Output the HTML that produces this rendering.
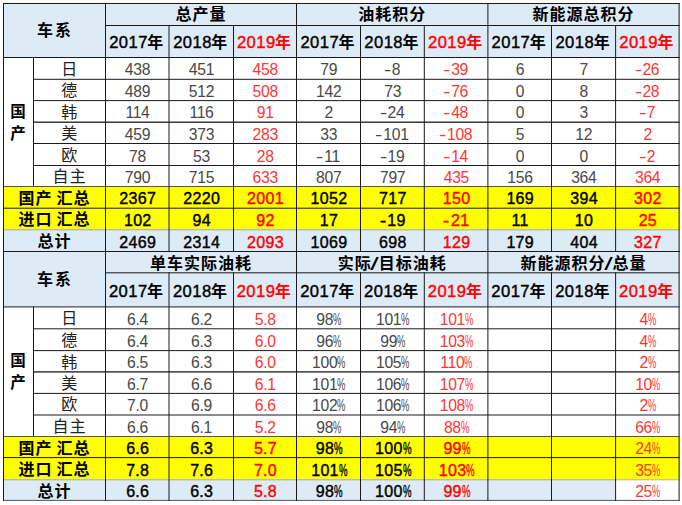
<!DOCTYPE html>
<html lang="zh"><head><meta charset="utf-8"><title>table</title><style>
html,body{margin:0;padding:0;background:#fff}
body{width:682px;height:505px;position:relative;overflow:hidden;font-family:"Liberation Sans","Noto Sans CJK SC",sans-serif;color:#000}
#bg{position:absolute;left:0;top:0}
.c{position:absolute;display:flex;align-items:center;justify-content:center;white-space:nowrap;box-sizing:border-box;text-align:center}
.g{display:inline-block;line-height:1}
.sp{display:inline-block;width:.3em}
.hb{font-weight:bold;font-size:16px}
.cx{padding-top:1px}
.cx .g{margin:0 1px}
.gh{padding-top:1px}
.gh .g{margin:0 .5px}
.yr{font-size:16px;padding-top:3px;padding-right:1px}
.yr .yd{font-size:16.6px;letter-spacing:.45px;font-weight:normal;-webkit-text-stroke:.4px currentColor}
.nian .g{margin-left:-.5px}
.d{font-size:15.7px;letter-spacing:-.3px;color:#484848;padding-top:5px;padding-left:1.5px}
.d.red{color:#FF3535}
.d.nm{font-size:16px;color:#222;padding-top:3.6px;padding-left:0}
.nm .g{margin:0 .7px}
.sb{font-weight:normal;-webkit-text-stroke:.4px currentColor;font-size:16px;padding-top:5px;padding-left:2px;letter-spacing:.3px}
.sl{padding-top:4px}
.sl .g{margin:0 .5px}
.sl .sp{width:4.1px}
.gc{line-height:22px;padding-top:2px;font-size:15.5px}
.gh.t2{padding-top:4px}
.cx.t2{padding-top:2.5px}
.yr.t2{padding-top:5.5px;padding-right:1.5px}
.slash{display:inline-block;font-weight:normal;font-size:18px;transform:scaleX(1.7);margin:0 1px;position:relative;top:.5px}
.sb .mn{transform:scaleX(1.15);margin-right:2px;margin-left:-.5px}
.red{color:#FF0000}
.mn{display:inline-block;transform:scaleX(1.4);transform-origin:0 50%;margin-right:3px;margin-left:-1.4px}
.pc{display:inline-block;width:8px;height:1em;position:relative;vertical-align:baseline;letter-spacing:0}
.pc i{font-style:normal;position:absolute;left:0;bottom:0;transform:scaleX(.6);transform-origin:0 50%;line-height:1}
</style></head><body>
<svg id="bg" width="682" height="505" viewBox="0 0 682 505"><rect x="3" y="3" width="676.6" height="54" fill="#DDEBF7"/><rect x="3" y="186" width="676.6" height="43.3" fill="#FFFF00"/><rect x="3" y="229.3" width="676.6" height="21.7" fill="#DDEBF7"/><rect x="3" y="251" width="676.6" height="55.4" fill="#DDEBF7"/><rect x="3" y="436" width="676.6" height="43.3" fill="#FFFF00"/><rect x="3" y="479.3" width="612.1" height="20.6" fill="#DDEBF7"/><rect x="3" y="3" width="676.6" height="1" fill="#1a1a1a"/><rect x="105" y="25" width="574.6" height="1" fill="#1a1a1a"/><rect x="3" y="57" width="676.6" height="1" fill="#1a1a1a"/><rect x="33" y="78.8" width="646.6" height="1" fill="#1a1a1a"/><rect x="33" y="100.1" width="646.6" height="1" fill="#1a1a1a"/><rect x="33" y="121.55" width="646.6" height="1.3" fill="#1a1a1a"/><rect x="33" y="143" width="646.6" height="1" fill="#1a1a1a"/><rect x="33" y="165" width="646.6" height="1" fill="#1a1a1a"/><rect x="3" y="186" width="676.6" height="1" fill="#555"/><rect x="3" y="207.7" width="676.6" height="1" fill="#1a1a1a"/><rect x="3" y="229.3" width="676.6" height="1" fill="rgba(0,0,0,.3)"/><rect x="3" y="251" width="676.6" height="1" fill="#1a1a1a"/><rect x="3" y="3" width="1" height="249" fill="#1a1a1a"/><rect x="33" y="57" width="1" height="129" fill="#1a1a1a"/><rect x="105" y="3" width="1" height="249" fill="#1a1a1a"/><rect x="168.5" y="25" width="1" height="227" fill="#1a1a1a"/><rect x="233" y="25" width="1" height="227" fill="#1a1a1a"/><rect x="296" y="3" width="1" height="249" fill="#1a1a1a"/><rect x="360" y="25" width="1" height="227" fill="#1a1a1a"/><rect x="423.8" y="25" width="1" height="227" fill="#1a1a1a"/><rect x="487.4" y="3" width="1" height="249" fill="#1a1a1a"/><rect x="551" y="25" width="1" height="227" fill="#1a1a1a"/><rect x="615.1" y="25" width="1" height="227" fill="#1a1a1a"/><rect x="678.6" y="3" width="1" height="249" fill="#1a1a1a"/><rect x="3" y="251" width="676.6" height="1" fill="#1a1a1a"/><rect x="105" y="272.3" width="574.6" height="1" fill="#1a1a1a"/><rect x="3" y="306.4" width="676.6" height="1" fill="#1a1a1a"/><rect x="33" y="328.3" width="646.6" height="1" fill="#1a1a1a"/><rect x="33" y="350.1" width="646.6" height="1" fill="#1a1a1a"/><rect x="33" y="371.25" width="646.6" height="1.3" fill="#1a1a1a"/><rect x="33" y="392.9" width="646.6" height="1" fill="#1a1a1a"/><rect x="33" y="414.5" width="646.6" height="1" fill="#1a1a1a"/><rect x="3" y="436" width="676.6" height="1" fill="#555"/><rect x="3" y="457.1" width="676.6" height="1" fill="#1a1a1a"/><rect x="3" y="479.3" width="676.6" height="1" fill="rgba(0,0,0,.3)"/><rect x="3" y="499.9" width="676.6" height="1" fill="#555"/><rect x="3" y="251" width="1" height="249.9" fill="#1a1a1a"/><rect x="33" y="306.4" width="1" height="129.6" fill="#1a1a1a"/><rect x="105" y="251" width="1" height="249.9" fill="#1a1a1a"/><rect x="168.5" y="272.3" width="1" height="228.6" fill="#1a1a1a"/><rect x="233" y="272.3" width="1" height="228.6" fill="#1a1a1a"/><rect x="296" y="251" width="1" height="249.9" fill="#1a1a1a"/><rect x="360" y="272.3" width="1" height="228.6" fill="#1a1a1a"/><rect x="423.8" y="272.3" width="1" height="228.6" fill="#1a1a1a"/><rect x="487.4" y="251" width="1" height="249.9" fill="#1a1a1a"/><rect x="551" y="272.3" width="1" height="228.6" fill="#1a1a1a"/><rect x="615.1" y="272.3" width="1" height="228.6" fill="#1a1a1a"/><rect x="678.6" y="251" width="1" height="249.9" fill="#1a1a1a"/></svg>
<div class="c hb cx t1" style="left:3px;top:3px;width:102px;height:54px;"><span class="g">车</span><span class="g">系</span></div>
<div class="c hb gh t1" style="left:105px;top:3px;width:191px;height:22px;"><span class="g">总</span><span class="g">产</span><span class="g">量</span></div>
<div class="c hb yr t1" style="left:105px;top:25px;width:63.5px;height:32px;"><span class="yd">2017</span><span class="nian"><span class="g">年</span></span></div>
<div class="c hb yr t1" style="left:168.5px;top:25px;width:64.5px;height:32px;"><span class="yd">2018</span><span class="nian"><span class="g">年</span></span></div>
<div class="c hb yr t1 red" style="left:233px;top:25px;width:63px;height:32px;"><span class="yd">2019</span><span class="nian"><span class="g">年</span></span></div>
<div class="c hb gh t1" style="left:296px;top:3px;width:191.4px;height:22px;"><span class="g">油</span><span class="g">耗</span><span class="g">积</span><span class="g">分</span></div>
<div class="c hb yr t1" style="left:296px;top:25px;width:64px;height:32px;"><span class="yd">2017</span><span class="nian"><span class="g">年</span></span></div>
<div class="c hb yr t1" style="left:360px;top:25px;width:63.8px;height:32px;"><span class="yd">2018</span><span class="nian"><span class="g">年</span></span></div>
<div class="c hb yr t1 red" style="left:423.8px;top:25px;width:63.6px;height:32px;"><span class="yd">2019</span><span class="nian"><span class="g">年</span></span></div>
<div class="c hb gh t1" style="left:487.4px;top:3px;width:191.2px;height:22px;"><span class="g">新</span><span class="g">能</span><span class="g">源</span><span class="g">总</span><span class="g">积</span><span class="g">分</span></div>
<div class="c hb yr t1" style="left:487.4px;top:25px;width:63.6px;height:32px;"><span class="yd">2017</span><span class="nian"><span class="g">年</span></span></div>
<div class="c hb yr t1" style="left:551px;top:25px;width:64.1px;height:32px;"><span class="yd">2018</span><span class="nian"><span class="g">年</span></span></div>
<div class="c hb yr t1 red" style="left:615.1px;top:25px;width:63.5px;height:32px;"><span class="yd">2019</span><span class="nian"><span class="g">年</span></span></div>
<div class="c hb gc" style="left:3px;top:57px;width:30px;height:129px;"><span><span class="g">国</span><br><span class="g">产</span></span></div>
<div class="c d nm" style="left:33px;top:57px;width:72px;height:21.8px;"><span class="g">日</span></div>
<div class="c d" style="left:105px;top:57px;width:63.5px;height:21.8px;">438</div>
<div class="c d" style="left:168.5px;top:57px;width:64.5px;height:21.8px;">451</div>
<div class="c d red" style="left:233px;top:57px;width:63px;height:21.8px;">458</div>
<div class="c d" style="left:296px;top:57px;width:64px;height:21.8px;">79</div>
<div class="c d" style="left:360px;top:57px;width:63.8px;height:21.8px;"><span class="mn">-</span>8</div>
<div class="c d red" style="left:423.8px;top:57px;width:63.6px;height:21.8px;"><span class="mn">-</span>39</div>
<div class="c d" style="left:487.4px;top:57px;width:63.6px;height:21.8px;">6</div>
<div class="c d" style="left:551px;top:57px;width:64.1px;height:21.8px;">7</div>
<div class="c d red" style="left:615.1px;top:57px;width:63.5px;height:21.8px;"><span class="mn">-</span>26</div>
<div class="c d nm" style="left:33px;top:78.8px;width:72px;height:21.3px;"><span class="g">德</span></div>
<div class="c d" style="left:105px;top:78.8px;width:63.5px;height:21.3px;">489</div>
<div class="c d" style="left:168.5px;top:78.8px;width:64.5px;height:21.3px;">512</div>
<div class="c d red" style="left:233px;top:78.8px;width:63px;height:21.3px;">508</div>
<div class="c d" style="left:296px;top:78.8px;width:64px;height:21.3px;">142</div>
<div class="c d" style="left:360px;top:78.8px;width:63.8px;height:21.3px;">73</div>
<div class="c d red" style="left:423.8px;top:78.8px;width:63.6px;height:21.3px;"><span class="mn">-</span>76</div>
<div class="c d" style="left:487.4px;top:78.8px;width:63.6px;height:21.3px;">0</div>
<div class="c d" style="left:551px;top:78.8px;width:64.1px;height:21.3px;">8</div>
<div class="c d red" style="left:615.1px;top:78.8px;width:63.5px;height:21.3px;"><span class="mn">-</span>28</div>
<div class="c d nm" style="left:33px;top:100.1px;width:72px;height:21.6px;"><span class="g">韩</span></div>
<div class="c d" style="left:105px;top:100.1px;width:63.5px;height:21.6px;">114</div>
<div class="c d" style="left:168.5px;top:100.1px;width:64.5px;height:21.6px;">116</div>
<div class="c d red" style="left:233px;top:100.1px;width:63px;height:21.6px;">91</div>
<div class="c d" style="left:296px;top:100.1px;width:64px;height:21.6px;">2</div>
<div class="c d" style="left:360px;top:100.1px;width:63.8px;height:21.6px;"><span class="mn">-</span>24</div>
<div class="c d red" style="left:423.8px;top:100.1px;width:63.6px;height:21.6px;"><span class="mn">-</span>48</div>
<div class="c d" style="left:487.4px;top:100.1px;width:63.6px;height:21.6px;">0</div>
<div class="c d" style="left:551px;top:100.1px;width:64.1px;height:21.6px;">3</div>
<div class="c d red" style="left:615.1px;top:100.1px;width:63.5px;height:21.6px;"><span class="mn">-</span>7</div>
<div class="c d nm" style="left:33px;top:121.7px;width:72px;height:21.3px;"><span class="g">美</span></div>
<div class="c d" style="left:105px;top:121.7px;width:63.5px;height:21.3px;">459</div>
<div class="c d" style="left:168.5px;top:121.7px;width:64.5px;height:21.3px;">373</div>
<div class="c d red" style="left:233px;top:121.7px;width:63px;height:21.3px;">283</div>
<div class="c d" style="left:296px;top:121.7px;width:64px;height:21.3px;">33</div>
<div class="c d" style="left:360px;top:121.7px;width:63.8px;height:21.3px;"><span class="mn">-</span>101</div>
<div class="c d red" style="left:423.8px;top:121.7px;width:63.6px;height:21.3px;"><span class="mn">-</span>108</div>
<div class="c d" style="left:487.4px;top:121.7px;width:63.6px;height:21.3px;">5</div>
<div class="c d" style="left:551px;top:121.7px;width:64.1px;height:21.3px;">12</div>
<div class="c d red" style="left:615.1px;top:121.7px;width:63.5px;height:21.3px;">2</div>
<div class="c d nm" style="left:33px;top:143px;width:72px;height:22px;"><span class="g">欧</span></div>
<div class="c d" style="left:105px;top:143px;width:63.5px;height:22px;">78</div>
<div class="c d" style="left:168.5px;top:143px;width:64.5px;height:22px;">53</div>
<div class="c d red" style="left:233px;top:143px;width:63px;height:22px;">28</div>
<div class="c d" style="left:296px;top:143px;width:64px;height:22px;"><span class="mn">-</span>11</div>
<div class="c d" style="left:360px;top:143px;width:63.8px;height:22px;"><span class="mn">-</span>19</div>
<div class="c d red" style="left:423.8px;top:143px;width:63.6px;height:22px;"><span class="mn">-</span>14</div>
<div class="c d" style="left:487.4px;top:143px;width:63.6px;height:22px;">0</div>
<div class="c d" style="left:551px;top:143px;width:64.1px;height:22px;">0</div>
<div class="c d red" style="left:615.1px;top:143px;width:63.5px;height:22px;"><span class="mn">-</span>2</div>
<div class="c d nm" style="left:33px;top:165px;width:72px;height:21px;"><span class="g">自</span><span class="g">主</span></div>
<div class="c d" style="left:105px;top:165px;width:63.5px;height:21px;">790</div>
<div class="c d" style="left:168.5px;top:165px;width:64.5px;height:21px;">715</div>
<div class="c d red" style="left:233px;top:165px;width:63px;height:21px;">633</div>
<div class="c d" style="left:296px;top:165px;width:64px;height:21px;">807</div>
<div class="c d" style="left:360px;top:165px;width:63.8px;height:21px;">797</div>
<div class="c d red" style="left:423.8px;top:165px;width:63.6px;height:21px;">435</div>
<div class="c d" style="left:487.4px;top:165px;width:63.6px;height:21px;">156</div>
<div class="c d" style="left:551px;top:165px;width:64.1px;height:21px;">364</div>
<div class="c d red" style="left:615.1px;top:165px;width:63.5px;height:21px;">364</div>
<div class="c hb sl" style="left:3px;top:186px;width:102px;height:21.7px;"><span class="g">国</span><span class="g">产</span><span class="sp"></span><span class="g">汇</span><span class="g">总</span></div>
<div class="c sb" style="left:105px;top:186px;width:63.5px;height:21.7px;">2367</div>
<div class="c sb" style="left:168.5px;top:186px;width:64.5px;height:21.7px;">2220</div>
<div class="c sb red" style="left:233px;top:186px;width:63px;height:21.7px;">2001</div>
<div class="c sb" style="left:296px;top:186px;width:64px;height:21.7px;">1052</div>
<div class="c sb" style="left:360px;top:186px;width:63.8px;height:21.7px;">717</div>
<div class="c sb red" style="left:423.8px;top:186px;width:63.6px;height:21.7px;">150</div>
<div class="c sb" style="left:487.4px;top:186px;width:63.6px;height:21.7px;">169</div>
<div class="c sb" style="left:551px;top:186px;width:64.1px;height:21.7px;">394</div>
<div class="c sb red" style="left:615.1px;top:186px;width:63.5px;height:21.7px;">302</div>
<div class="c hb sl" style="left:3px;top:207.7px;width:102px;height:21.6px;"><span class="g">进</span><span class="g">口</span><span class="sp"></span><span class="g">汇</span><span class="g">总</span></div>
<div class="c sb" style="left:105px;top:207.7px;width:63.5px;height:21.6px;">102</div>
<div class="c sb" style="left:168.5px;top:207.7px;width:64.5px;height:21.6px;">94</div>
<div class="c sb red" style="left:233px;top:207.7px;width:63px;height:21.6px;">92</div>
<div class="c sb" style="left:296px;top:207.7px;width:64px;height:21.6px;">17</div>
<div class="c sb" style="left:360px;top:207.7px;width:63.8px;height:21.6px;"><span class="mn">-</span>19</div>
<div class="c sb red" style="left:423.8px;top:207.7px;width:63.6px;height:21.6px;"><span class="mn">-</span>21</div>
<div class="c sb" style="left:487.4px;top:207.7px;width:63.6px;height:21.6px;">11</div>
<div class="c sb" style="left:551px;top:207.7px;width:64.1px;height:21.6px;">10</div>
<div class="c sb red" style="left:615.1px;top:207.7px;width:63.5px;height:21.6px;">25</div>
<div class="c hb sl" style="left:3px;top:229.3px;width:102px;height:21.7px;"><span class="g">总</span><span class="g">计</span></div>
<div class="c sb" style="left:105px;top:229.3px;width:63.5px;height:21.7px;">2469</div>
<div class="c sb" style="left:168.5px;top:229.3px;width:64.5px;height:21.7px;">2314</div>
<div class="c sb red" style="left:233px;top:229.3px;width:63px;height:21.7px;">2093</div>
<div class="c sb" style="left:296px;top:229.3px;width:64px;height:21.7px;">1069</div>
<div class="c sb" style="left:360px;top:229.3px;width:63.8px;height:21.7px;">698</div>
<div class="c sb red" style="left:423.8px;top:229.3px;width:63.6px;height:21.7px;">129</div>
<div class="c sb" style="left:487.4px;top:229.3px;width:63.6px;height:21.7px;">179</div>
<div class="c sb" style="left:551px;top:229.3px;width:64.1px;height:21.7px;">404</div>
<div class="c sb red" style="left:615.1px;top:229.3px;width:63.5px;height:21.7px;">327</div>
<div class="c hb cx t2" style="left:3px;top:251px;width:102px;height:55.4px;"><span class="g">车</span><span class="g">系</span></div>
<div class="c hb gh t2" style="left:105px;top:251px;width:191px;height:21.3px;"><span class="g">单</span><span class="g">车</span><span class="g">实</span><span class="g">际</span><span class="g">油</span><span class="g">耗</span></div>
<div class="c hb yr t2" style="left:105px;top:272.3px;width:63.5px;height:34.1px;"><span class="yd">2017</span><span class="nian"><span class="g">年</span></span></div>
<div class="c hb yr t2" style="left:168.5px;top:272.3px;width:64.5px;height:34.1px;"><span class="yd">2018</span><span class="nian"><span class="g">年</span></span></div>
<div class="c hb yr t2 red" style="left:233px;top:272.3px;width:63px;height:34.1px;"><span class="yd">2019</span><span class="nian"><span class="g">年</span></span></div>
<div class="c hb gh t2" style="left:296px;top:251px;width:191.4px;height:21.3px;"><span class="g">实</span><span class="g">际</span><span class="slash">/</span><span class="g">目</span><span class="g">标</span><span class="g">油</span><span class="g">耗</span></div>
<div class="c hb yr t2" style="left:296px;top:272.3px;width:64px;height:34.1px;"><span class="yd">2017</span><span class="nian"><span class="g">年</span></span></div>
<div class="c hb yr t2" style="left:360px;top:272.3px;width:63.8px;height:34.1px;"><span class="yd">2018</span><span class="nian"><span class="g">年</span></span></div>
<div class="c hb yr t2 red" style="left:423.8px;top:272.3px;width:63.6px;height:34.1px;"><span class="yd">2019</span><span class="nian"><span class="g">年</span></span></div>
<div class="c hb gh t2" style="left:487.4px;top:251px;width:191.2px;height:21.3px;"><span class="g">新</span><span class="g">能</span><span class="g">源</span><span class="g">积</span><span class="g">分</span><span class="slash">/</span><span class="g">总</span><span class="g">量</span></div>
<div class="c hb yr t2" style="left:487.4px;top:272.3px;width:63.6px;height:34.1px;"><span class="yd">2017</span><span class="nian"><span class="g">年</span></span></div>
<div class="c hb yr t2" style="left:551px;top:272.3px;width:64.1px;height:34.1px;"><span class="yd">2018</span><span class="nian"><span class="g">年</span></span></div>
<div class="c hb yr t2 red" style="left:615.1px;top:272.3px;width:63.5px;height:34.1px;"><span class="yd">2019</span><span class="nian"><span class="g">年</span></span></div>
<div class="c hb gc" style="left:3px;top:306.4px;width:30px;height:129.6px;"><span><span class="g">国</span><br><span class="g">产</span></span></div>
<div class="c d nm" style="left:33px;top:306.4px;width:72px;height:21.9px;"><span class="g">日</span></div>
<div class="c d" style="left:105px;top:306.4px;width:63.5px;height:21.9px;">6.4</div>
<div class="c d" style="left:168.5px;top:306.4px;width:64.5px;height:21.9px;">6.2</div>
<div class="c d red" style="left:233px;top:306.4px;width:63px;height:21.9px;">5.8</div>
<div class="c d" style="left:296px;top:306.4px;width:64px;height:21.9px;">98<span class="pc"><i>%</i></span></div>
<div class="c d" style="left:360px;top:306.4px;width:63.8px;height:21.9px;">101<span class="pc"><i>%</i></span></div>
<div class="c d red" style="left:423.8px;top:306.4px;width:63.6px;height:21.9px;">101<span class="pc"><i>%</i></span></div>
<div class="c d red" style="left:615.1px;top:306.4px;width:63.5px;height:21.9px;">4<span class="pc"><i>%</i></span></div>
<div class="c d nm" style="left:33px;top:328.3px;width:72px;height:21.8px;"><span class="g">德</span></div>
<div class="c d" style="left:105px;top:328.3px;width:63.5px;height:21.8px;">6.4</div>
<div class="c d" style="left:168.5px;top:328.3px;width:64.5px;height:21.8px;">6.3</div>
<div class="c d red" style="left:233px;top:328.3px;width:63px;height:21.8px;">6.0</div>
<div class="c d" style="left:296px;top:328.3px;width:64px;height:21.8px;">96<span class="pc"><i>%</i></span></div>
<div class="c d" style="left:360px;top:328.3px;width:63.8px;height:21.8px;">99<span class="pc"><i>%</i></span></div>
<div class="c d red" style="left:423.8px;top:328.3px;width:63.6px;height:21.8px;">103<span class="pc"><i>%</i></span></div>
<div class="c d red" style="left:615.1px;top:328.3px;width:63.5px;height:21.8px;">4<span class="pc"><i>%</i></span></div>
<div class="c d nm" style="left:33px;top:350.1px;width:72px;height:21.3px;"><span class="g">韩</span></div>
<div class="c d" style="left:105px;top:350.1px;width:63.5px;height:21.3px;">6.5</div>
<div class="c d" style="left:168.5px;top:350.1px;width:64.5px;height:21.3px;">6.3</div>
<div class="c d red" style="left:233px;top:350.1px;width:63px;height:21.3px;">6.0</div>
<div class="c d" style="left:296px;top:350.1px;width:64px;height:21.3px;">100<span class="pc"><i>%</i></span></div>
<div class="c d" style="left:360px;top:350.1px;width:63.8px;height:21.3px;">105<span class="pc"><i>%</i></span></div>
<div class="c d red" style="left:423.8px;top:350.1px;width:63.6px;height:21.3px;">110<span class="pc"><i>%</i></span></div>
<div class="c d red" style="left:615.1px;top:350.1px;width:63.5px;height:21.3px;">2<span class="pc"><i>%</i></span></div>
<div class="c d nm" style="left:33px;top:371.4px;width:72px;height:21.5px;"><span class="g">美</span></div>
<div class="c d" style="left:105px;top:371.4px;width:63.5px;height:21.5px;">6.7</div>
<div class="c d" style="left:168.5px;top:371.4px;width:64.5px;height:21.5px;">6.6</div>
<div class="c d red" style="left:233px;top:371.4px;width:63px;height:21.5px;">6.1</div>
<div class="c d" style="left:296px;top:371.4px;width:64px;height:21.5px;">101<span class="pc"><i>%</i></span></div>
<div class="c d" style="left:360px;top:371.4px;width:63.8px;height:21.5px;">106<span class="pc"><i>%</i></span></div>
<div class="c d red" style="left:423.8px;top:371.4px;width:63.6px;height:21.5px;">107<span class="pc"><i>%</i></span></div>
<div class="c d red" style="left:615.1px;top:371.4px;width:63.5px;height:21.5px;">10<span class="pc"><i>%</i></span></div>
<div class="c d nm" style="left:33px;top:392.9px;width:72px;height:21.6px;"><span class="g">欧</span></div>
<div class="c d" style="left:105px;top:392.9px;width:63.5px;height:21.6px;">7.0</div>
<div class="c d" style="left:168.5px;top:392.9px;width:64.5px;height:21.6px;">6.9</div>
<div class="c d red" style="left:233px;top:392.9px;width:63px;height:21.6px;">6.6</div>
<div class="c d" style="left:296px;top:392.9px;width:64px;height:21.6px;">102<span class="pc"><i>%</i></span></div>
<div class="c d" style="left:360px;top:392.9px;width:63.8px;height:21.6px;">106<span class="pc"><i>%</i></span></div>
<div class="c d red" style="left:423.8px;top:392.9px;width:63.6px;height:21.6px;">108<span class="pc"><i>%</i></span></div>
<div class="c d red" style="left:615.1px;top:392.9px;width:63.5px;height:21.6px;">2<span class="pc"><i>%</i></span></div>
<div class="c d nm" style="left:33px;top:414.5px;width:72px;height:21.5px;"><span class="g">自</span><span class="g">主</span></div>
<div class="c d" style="left:105px;top:414.5px;width:63.5px;height:21.5px;">6.6</div>
<div class="c d" style="left:168.5px;top:414.5px;width:64.5px;height:21.5px;">6.1</div>
<div class="c d red" style="left:233px;top:414.5px;width:63px;height:21.5px;">5.2</div>
<div class="c d" style="left:296px;top:414.5px;width:64px;height:21.5px;">98<span class="pc"><i>%</i></span></div>
<div class="c d" style="left:360px;top:414.5px;width:63.8px;height:21.5px;">94<span class="pc"><i>%</i></span></div>
<div class="c d red" style="left:423.8px;top:414.5px;width:63.6px;height:21.5px;">88<span class="pc"><i>%</i></span></div>
<div class="c d red" style="left:615.1px;top:414.5px;width:63.5px;height:21.5px;">66<span class="pc"><i>%</i></span></div>
<div class="c hb sl" style="left:3px;top:436px;width:102px;height:21.1px;"><span class="g">国</span><span class="g">产</span><span class="sp"></span><span class="g">汇</span><span class="g">总</span></div>
<div class="c sb" style="left:105px;top:436px;width:63.5px;height:21.1px;">6.6</div>
<div class="c sb" style="left:168.5px;top:436px;width:64.5px;height:21.1px;">6.3</div>
<div class="c sb red" style="left:233px;top:436px;width:63px;height:21.1px;">5.7</div>
<div class="c sb" style="left:296px;top:436px;width:64px;height:21.1px;">98<span class="pc"><i>%</i></span></div>
<div class="c sb" style="left:360px;top:436px;width:63.8px;height:21.1px;">100<span class="pc"><i>%</i></span></div>
<div class="c sb red" style="left:423.8px;top:436px;width:63.6px;height:21.1px;">99<span class="pc"><i>%</i></span></div>
<div class="c d red" style="left:615.1px;top:436px;width:63.5px;height:21.1px;">24<span class="pc"><i>%</i></span></div>
<div class="c hb sl" style="left:3px;top:457.1px;width:102px;height:22.2px;"><span class="g">进</span><span class="g">口</span><span class="sp"></span><span class="g">汇</span><span class="g">总</span></div>
<div class="c sb" style="left:105px;top:457.1px;width:63.5px;height:22.2px;">7.8</div>
<div class="c sb" style="left:168.5px;top:457.1px;width:64.5px;height:22.2px;">7.6</div>
<div class="c sb red" style="left:233px;top:457.1px;width:63px;height:22.2px;">7.0</div>
<div class="c sb" style="left:296px;top:457.1px;width:64px;height:22.2px;">101<span class="pc"><i>%</i></span></div>
<div class="c sb" style="left:360px;top:457.1px;width:63.8px;height:22.2px;">105<span class="pc"><i>%</i></span></div>
<div class="c sb red" style="left:423.8px;top:457.1px;width:63.6px;height:22.2px;">103<span class="pc"><i>%</i></span></div>
<div class="c d red" style="left:615.1px;top:457.1px;width:63.5px;height:22.2px;">35<span class="pc"><i>%</i></span></div>
<div class="c hb sl" style="left:3px;top:479.3px;width:102px;height:20.6px;"><span class="g">总</span><span class="g">计</span></div>
<div class="c sb" style="left:105px;top:479.3px;width:63.5px;height:20.6px;">6.6</div>
<div class="c sb" style="left:168.5px;top:479.3px;width:64.5px;height:20.6px;">6.3</div>
<div class="c sb red" style="left:233px;top:479.3px;width:63px;height:20.6px;">5.8</div>
<div class="c sb" style="left:296px;top:479.3px;width:64px;height:20.6px;">98<span class="pc"><i>%</i></span></div>
<div class="c sb" style="left:360px;top:479.3px;width:63.8px;height:20.6px;">100<span class="pc"><i>%</i></span></div>
<div class="c sb red" style="left:423.8px;top:479.3px;width:63.6px;height:20.6px;">99<span class="pc"><i>%</i></span></div>
<div class="c d red" style="left:615.1px;top:479.3px;width:63.5px;height:20.6px;">25<span class="pc"><i>%</i></span></div>
</body></html>
